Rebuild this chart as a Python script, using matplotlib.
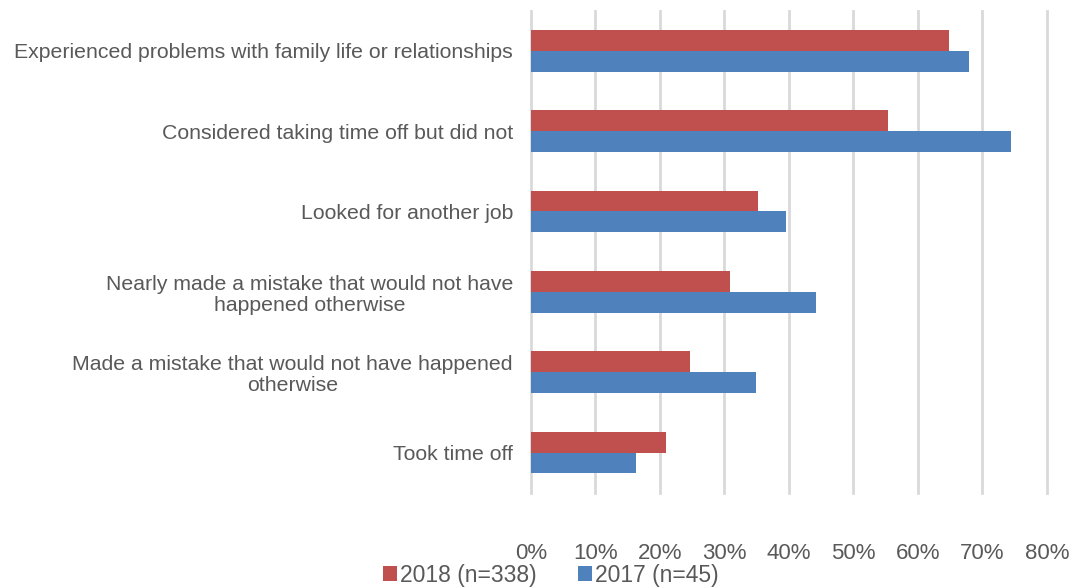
import matplotlib.pyplot as plt
import numpy as np
from matplotlib.ticker import PercentFormatter

plt.rcParams['font.family'] = ['Liberation Sans', 'DejaVu Sans']

categories = ['Experienced problems with family life or relationships',
              'Considered taking time off but did not',
              'Looked for another job',
              'Nearly made a mistake that would not have\nhappened otherwise',
              'Made a mistake that would not have happened\notherwise',
              'Took time off']
pct_2018 = [64.8, 55.3, 35.2, 30.8, 24.6, 21.0]
pct_2017 = [67.9, 74.4, 39.5, 44.2, 34.9, 16.3]
series_names = ['2018 (n=338)', '2017 (n=45)']
xticks = [0, 10, 20, 30, 40, 50, 60, 70, 80]

RED = '#C0504D'
BLUE = '#4F81BD'
GREY_TXT = '#595959'
GRID = '#D9D9D9'

fig = plt.figure(figsize=(10.76, 5.88), dpi=100)
ax = fig.add_axes([0.4935, 0.162, 0.4795, 0.82])

y = np.arange(len(categories))
h = 0.26
ax.barh(y - h / 2, pct_2018, height=h, color=RED, label=series_names[0], zorder=3)
ax.barh(y + h / 2, pct_2017, height=h, color=BLUE, label=series_names[1], zorder=3)

ax.set_xlim(0, 80)
ax.set_ylim(len(categories) - 0.5, -0.5)
ax.set_xticks(xticks)
ax.xaxis.set_major_formatter(PercentFormatter(decimals=0))
ax.set_yticks(y)
ax.set_yticklabels(categories, multialignment='center', linespacing=1.12)

ax.grid(axis='x', color=GRID, linewidth=2, zorder=0)
for gl in ax.get_xgridlines():
    gl.set_clip_on(False)
for s in ax.spines.values():
    s.set_visible(False)
ax.tick_params(axis='x', length=0, pad=36, labelsize=16, labelcolor=GREY_TXT)
ax.tick_params(axis='y', length=0, pad=13, labelsize=15.3, labelcolor=GREY_TXT)

leg = fig.legend(loc='center', bbox_to_anchor=(0.512, 0.022), ncol=2, frameon=False,
                 fontsize=16.5, handlelength=0.6, handleheight=0.6, handletextpad=0.15,
                 columnspacing=1.8, labelcolor=GREY_TXT)

fig.savefig('out.png', dpi=100)
